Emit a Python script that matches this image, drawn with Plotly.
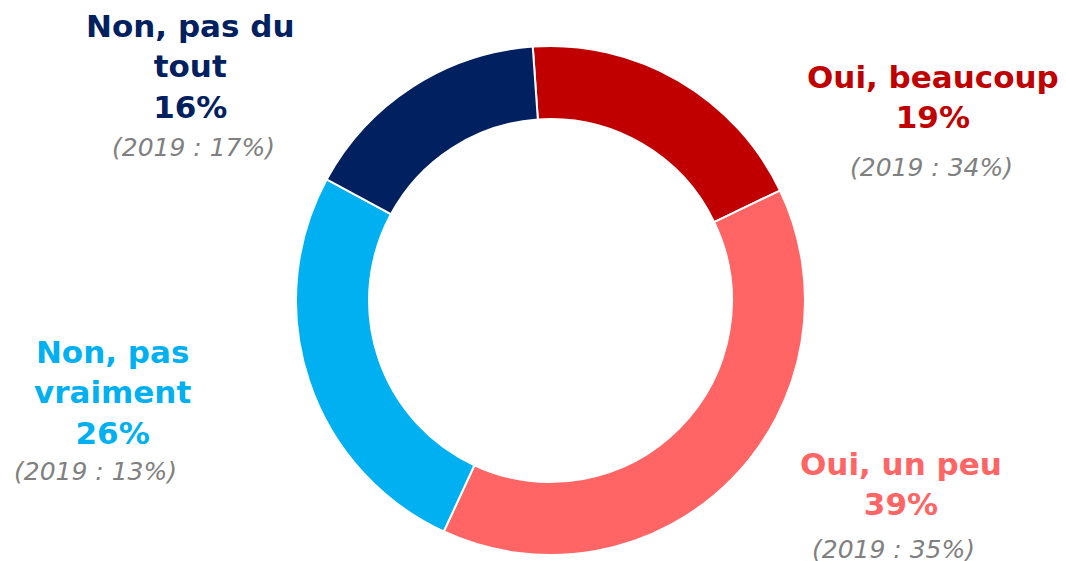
import plotly.graph_objects as go

# Données
reponses = ["Oui, beaucoup", "Oui, un peu", "Non, pas vraiment", "Non, pas du tout"]
pct_2021 = [19, 39, 26, 16]
pct_2019 = [34, 35, 13, 17]
couleurs = ["#C00000", "#FF6565", "#00B0F0", "#002060"]

# libellés affichés (avec retours à la ligne) et position des annotations (px écran)
libelles = ["Oui, beaucoup", "Oui, un peu", "Non, pas<br>vraiment", "Non, pas du<br>tout"]
pos_lib = [(933, 97), (901, 484), (112, 392), (190, 66)]
pos_2019 = [(931, 168), (893, 549), (95, 471), (193, 148)]

W, H = 1066, 561
OFF = 8  # marge par défaut du <body> de la page


def px(x, y):
    return (x - OFF) / W, 1 - (y - OFF) / H


fig = go.Figure(go.Pie(
    labels=reponses,
    values=pct_2021,
    hole=0.713,
    sort=False,
    direction="clockwise",
    rotation=-4,
    marker=dict(colors=couleurs, line=dict(color="white", width=2)),
    textinfo="none",
    hoverinfo="label+percent",
    domain=dict(x=[(296 - OFF) / W, (805 - OFF) / W],
                y=[1 - (555 - OFF) / H, 1 - (46 - OFF) / H]),
    showlegend=False,
))

for lib, val, prev, col, pl, pg in zip(
        libelles, pct_2021, pct_2019, couleurs, pos_lib, pos_2019):
    x, y = px(*pl)
    fig.add_annotation(
        x=x, y=y, xref="paper", yref="paper",
        text=f"<b>{lib}<br>{val}%</b>", showarrow=False,
        xanchor="center", yanchor="middle", align="center",
        font=dict(family="DejaVu Sans", size=31, color=col),
    )
    x, y = px(*pg)
    fig.add_annotation(
        x=x, y=y, xref="paper", yref="paper",
        text=f"<i>(2019 : {prev}%)</i>", showarrow=False,
        xanchor="center", yanchor="middle",
        font=dict(family="DejaVu Sans", size=25, color="#808080"),
    )

fig.update_layout(
    width=W, height=H,
    margin=dict(l=0, r=0, t=0, b=0),
    paper_bgcolor="white",
    plot_bgcolor="white",
)

fig.write_html("out.html")
